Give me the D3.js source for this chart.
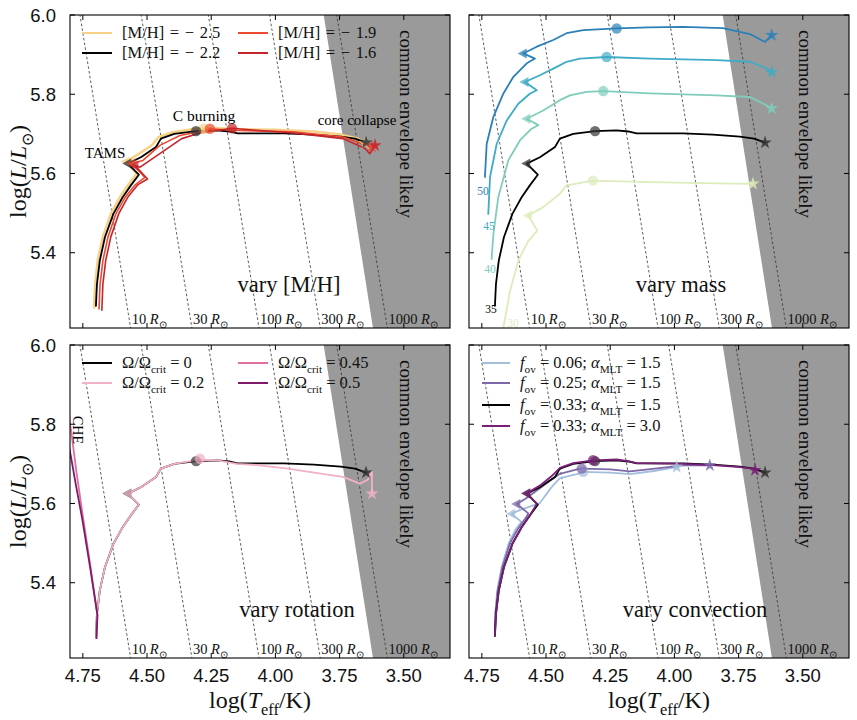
<!DOCTYPE html>
<html><head><meta charset="utf-8">
<script src="https://cdn.jsdelivr.net/npm/d3@7"></script>
<style>body{margin:0;background:#fff}svg{display:block}</style>
</head><body><svg id="c" width="857" height="720"></svg>
<script>
// ---------- axes / reference data ----------
const xTickVals=[4.75,4.50,4.25,4.00,3.75,3.50];
const xTickText=["4.75","4.50","4.25","4.00","3.75","3.50"];
const yTickVals=[5.4,5.6,5.8,6.0];
const yTickText=["5.4","5.6","5.8","6.0"];
const radii=[10,30,100,300,1000];
const radiusText=["10","30","100","300","1000"];
const ceEdge=[[3.812,6.0],[3.620,5.21]];

// ---------- tracks: [logTeff, logL] ----------
const trk35=[[4.699,5.266],[4.695,5.321],[4.684,5.380],[4.664,5.439],[4.631,5.498],[4.595,5.540],[4.563,5.570],[4.532,5.597],[4.575,5.625],[4.524,5.641],[4.465,5.667],[4.446,5.688],[4.394,5.700],[4.309,5.707],[4.225,5.709],[4.180,5.706],[4.147,5.701],[3.966,5.701],[3.850,5.698],[3.745,5.693],[3.690,5.688],[3.660,5.681],[3.647,5.678]];
const trk35Marks={tams:[4.575,5.625],cb:[4.309,5.707]};

const mh25=[[4.706,5.262],[4.702,5.321],[4.692,5.380],[4.672,5.440],[4.640,5.500],[4.603,5.543],[4.570,5.574],[4.540,5.600],[4.582,5.630],[4.535,5.648],[4.480,5.672],[4.455,5.692],[4.400,5.704],[4.320,5.712],[4.230,5.714],[4.150,5.712],[4.000,5.710],[3.850,5.706],[3.745,5.698],[3.680,5.688],[3.650,5.676]];
const mh19=[[4.687,5.258],[4.683,5.320],[4.672,5.380],[4.652,5.440],[4.620,5.500],[4.583,5.542],[4.545,5.572],[4.508,5.590],[4.559,5.625],[4.516,5.633],[4.450,5.671],[4.372,5.696],[4.282,5.707],[4.255,5.713],[4.169,5.709],[3.932,5.705],[3.737,5.692],[3.663,5.675],[3.624,5.667]];
const mh16=[[4.676,5.255],[4.672,5.320],[4.661,5.380],[4.641,5.440],[4.609,5.500],[4.573,5.542],[4.535,5.572],[4.498,5.586],[4.547,5.620],[4.527,5.616],[4.423,5.662],[4.365,5.688],[4.294,5.702],[4.169,5.714],[3.932,5.702],[3.737,5.688],[3.651,5.663],[3.632,5.650],[3.612,5.671]];

const m50=[[4.738,5.591],[4.731,5.675],[4.705,5.743],[4.666,5.802],[4.627,5.844],[4.575,5.878],[4.543,5.890],[4.589,5.903],[4.536,5.920],[4.472,5.937],[4.420,5.954],[4.355,5.962],[4.225,5.966],[4.100,5.969],[3.967,5.970],[3.811,5.967],[3.706,5.952],[3.647,5.932],[3.621,5.949]];
const m45=[[4.725,5.498],[4.718,5.591],[4.692,5.675],[4.653,5.734],[4.608,5.776],[4.562,5.802],[4.536,5.810],[4.582,5.831],[4.524,5.848],[4.458,5.869],[4.420,5.882],[4.368,5.890],[4.264,5.894],[4.095,5.890],[3.835,5.886],[3.706,5.882],[3.641,5.865],[3.621,5.856]];
const m40=[[4.712,5.384],[4.705,5.447],[4.686,5.540],[4.647,5.633],[4.601,5.684],[4.556,5.713],[4.530,5.722],[4.575,5.738],[4.511,5.759],[4.446,5.785],[4.407,5.797],[4.342,5.806],[4.277,5.808],[4.095,5.802],[3.835,5.797],[3.706,5.793],[3.641,5.772],[3.621,5.764]];
const m30=[[4.672,5.190],[4.640,5.304],[4.608,5.380],[4.569,5.430],[4.534,5.456],[4.569,5.494],[4.511,5.515],[4.446,5.549],[4.420,5.570],[4.317,5.582],[4.095,5.578],[3.835,5.575],[3.694,5.574]];
const massText=["50","45","40","35","30"];
const massLabelPos=[[4.745,5.557],[4.722,5.468],[4.718,5.359],[4.714,5.258],[4.629,5.223]];

const rot02=[[4.699,5.266],[4.695,5.321],[4.684,5.380],[4.664,5.439],[4.631,5.498],[4.595,5.540],[4.563,5.570],[4.532,5.597],[4.575,5.625],[4.524,5.641],[4.465,5.667],[4.446,5.688],[4.394,5.700],[4.300,5.710],[4.225,5.709],[4.150,5.700],[4.072,5.697],[3.950,5.688],[3.850,5.678],[3.737,5.667],[3.671,5.650],[3.640,5.660],[3.624,5.680],[3.624,5.625]];
const rot045=[[4.697,5.260],[4.694,5.321],[4.720,5.440],[4.748,5.560],[4.775,5.680],[4.796,5.785],[4.812,5.850]];
const rot05=[[4.697,5.260],[4.693,5.318],[4.722,5.440],[4.752,5.560],[4.778,5.650],[4.796,5.717],[4.812,5.770]];

const cv006=[[4.699,5.266],[4.698,5.321],[4.690,5.380],[4.673,5.439],[4.645,5.500],[4.618,5.535],[4.600,5.550],[4.595,5.553],[4.634,5.574],[4.600,5.584],[4.524,5.601],[4.480,5.640],[4.446,5.664],[4.368,5.676],[4.355,5.680],[4.250,5.678],[4.173,5.674],[4.080,5.682],[3.991,5.692]];
const cv025=[[4.699,5.266],[4.697,5.321],[4.688,5.380],[4.670,5.439],[4.640,5.500],[4.610,5.535],[4.575,5.568],[4.569,5.575],[4.614,5.599],[4.580,5.612],[4.536,5.633],[4.490,5.655],[4.446,5.675],[4.368,5.688],[4.361,5.688],[4.250,5.686],[4.173,5.681],[4.050,5.690],[3.966,5.696],[3.862,5.696]];
const cv033a3=[[4.699,5.266],[4.695,5.321],[4.684,5.380],[4.664,5.439],[4.631,5.498],[4.595,5.540],[4.563,5.570],[4.536,5.599],[4.575,5.626],[4.524,5.645],[4.480,5.668],[4.446,5.690],[4.394,5.702],[4.317,5.709],[4.225,5.711],[4.180,5.707],[4.147,5.702],[3.966,5.700],[3.850,5.697],[3.745,5.692],[3.700,5.688],[3.686,5.684]];

// ---------- setup ----------
const SERIF="'Liberation Serif','Times New Roman',serif";
const SANS="'Liberation Sans',Arial,Helvetica,sans-serif";
const W=380,H=313;
const x=d3.scaleLinear().domain([4.8,3.32]).range([0,W]);
const y=d3.scaleLinear().domain([5.21,6.0]).range([H,0]);
const line=d3.line().x(d=>x(d[0])).y(d=>y(d[1]));
const svg=d3.select("#c");
svg.append("rect").attr("width",857).attr("height",720).attr("fill","#fff");

function rich(t,segs,fs){
  let sub=false;
  segs.forEach(s=>{
    const ts=t.append("tspan").text(s[0]);
    if(s[1]==="i") ts.attr("font-style","italic");
    if(s[1]==="s"){ts.attr("font-size",fs*0.68).attr("dy",fs*0.28);sub=true;}
    else if(sub){ts.attr("dy",-fs*0.28);sub=false;}
  });
  return t;
}

const panels=[
 {ox:70,oy:15,title:"vary [M/H]",tx:219,
  tracks:[
   {d:mh25,c:"#f6d186",w:2.6,tams:[4.582,5.630],cb:[4.280,5.713],star:true},
   {d:trk35,c:"#000",mc:"#333",w:1.8,tams:trk35Marks.tams,cb:trk35Marks.cb,star:true},
   {d:mh19,c:"#ec4a2f",w:1.6,tams:[4.559,5.625],cb:[4.255,5.713],star:true},
   {d:mh16,c:"#c4252b",w:1.6,tams:[4.547,5.620],cb:[4.169,5.714],star:true}],
  legend:{cols:[12,168],rows:[18,38],lineW:30,ws:1.5,items:[
   {c:"#f6d186",col:0,row:0,segs:[["[M/H] = − 2.5","n"]]},
   {c:"#000",col:0,row:1,segs:[["[M/H] = − 2.2","n"]]},
   {c:"#ec4a2f",col:1,row:0,segs:[["[M/H] = − 1.9","n"]]},
   {c:"#c4252b",col:1,row:1,segs:[["[M/H] = − 1.6","n"]]}]},
  ylabel:true,xlabel:false},
 {ox:469,oy:15,title:"vary mass",tx:212,
  tracks:[
   {d:m50,c:"#2b80b8",w:1.8,tams:[4.589,5.903],cb:[4.225,5.966],star:true},
   {d:m45,c:"#40abc6",w:1.8,tams:[4.582,5.831],cb:[4.264,5.894],star:true},
   {d:m40,c:"#7fcdbb",w:1.8,tams:[4.575,5.738],cb:[4.277,5.808],star:true},
   {d:trk35,c:"#000",mc:"#333",w:1.8,tams:trk35Marks.tams,cb:trk35Marks.cb,star:true},
   {d:m30,c:"#dcecba",w:1.8,tams:[4.569,5.494],cb:[4.317,5.582],star:true}],
  massLabels:true,ylabel:false,xlabel:false},
 {ox:70,oy:345,title:"vary rotation",tx:227,
  tracks:[
   {d:trk35,c:"#000",mc:"#333",w:1.8,tams:trk35Marks.tams,cb:trk35Marks.cb,star:true},
   {d:rot02,c:"#f2b1c4",w:1.8,tams:[4.573,5.625],cb:[4.294,5.713],star:true},
   {d:rot045,c:"#e0709f",w:1.8},
   {d:rot05,c:"#7d1a6a",w:1.8}],
  legend:{cols:[12,168],rows:[18,38],lineW:30,ws:0,items:[
   {c:"#000",col:0,row:0,segs:[["Ω/Ω","n"],["crit","s"],[" = 0","n"]]},
   {c:"#f2b1c4",col:0,row:1,segs:[["Ω/Ω","n"],["crit","s"],[" = 0.2","n"]]},
   {c:"#e0709f",col:1,row:0,segs:[["Ω/Ω","n"],["crit","s"],[" = 0.45","n"]]},
   {c:"#7d1a6a",col:1,row:1,segs:[["Ω/Ω","n"],["crit","s"],[" = 0.5","n"]]}]},
  che:true,ylabel:true,xlabel:true},
 {ox:469,oy:345,title:"vary convection",tx:226,
  tracks:[
   {d:cv006,c:"#a3bddc",w:1.8,tams:[4.634,5.574],cb:[4.355,5.680],star:true},
   {d:cv025,c:"#7d69aa",w:1.8,tams:[4.614,5.599],cb:[4.361,5.688],star:true},
   {d:trk35,c:"#000",mc:"#333",w:1.8,tams:trk35Marks.tams,cb:trk35Marks.cb,star:true},
   {d:cv033a3,c:"#7a1f78",w:1.8,tams:[4.575,5.626],cb:[4.317,5.709],star:true}],
  legend:{cols:[13],rows:[18,38,60,81],lineW:28,ws:0,items:[
   {c:"#a3bddc",col:0,row:0,segs:[["f","i"],["ov","s"],[" = 0.06; ","n"],["α","i"],["MLT","s"],[" = 1.5","n"]]},
   {c:"#7d69aa",col:0,row:1,segs:[["f","i"],["ov","s"],[" = 0.25; ","n"],["α","i"],["MLT","s"],[" = 1.5","n"]]},
   {c:"#000",col:0,row:2,segs:[["f","i"],["ov","s"],[" = 0.33; ","n"],["α","i"],["MLT","s"],[" = 1.5","n"]]},
   {c:"#7a1f78",col:0,row:3,segs:[["f","i"],["ov","s"],[" = 0.33; ","n"],["α","i"],["MLT","s"],[" = 3.0","n"]]}]},
  ylabel:false,xlabel:true}
];

const defs=svg.append("defs");
defs.append("clipPath").attr("id","pclip").append("rect").attr("width",W).attr("height",H);

panels.forEach((p,pi)=>{
  const g=svg.append("g").attr("transform",`translate(${p.ox},${p.oy})`);
  const gc=g.append("g").attr("clip-path","url(#pclip)");
  // common-envelope region
  const poly=[ceEdge[0],ceEdge[1],[x.domain()[1]-0.05,ceEdge[1][1]],[x.domain()[1]-0.05,ceEdge[0][1]]];
  gc.append("path").attr("d","M"+poly.map(d=>[x(d[0]),y(d[1])].join(",")).join("L")+"Z").attr("fill","#9a9a9a");
  // constant-radius lines (Stefan-Boltzmann)
  const lt=(L,R)=>3.7613+(L-2*Math.log10(R))/4;
  radii.forEach((R,i)=>{
    gc.append("line").attr("x1",x(lt(6.05,R))).attr("y1",y(6.05)).attr("x2",x(lt(5.2,R))).attr("y2",y(5.2))
      .attr("stroke","#333").attr("stroke-width",0.8).attr("stroke-dasharray","2.6,2.2");
    const t=g.append("text").attr("x",x(lt(5.21,R))+1).attr("y",H-4).attr("font-family",SERIF).attr("font-size",14.5).attr("fill","#111");
    rich(t,[[radiusText[i]+" ","n"],["R","i"],["⊙","s"]],14.5);
  });
  // tracks
  p.tracks.forEach(tk=>{
    gc.append("path").attr("d",line(tk.d)).attr("fill","none").attr("stroke",tk.c).attr("stroke-width",tk.w)
      .attr("stroke-linejoin","round").attr("stroke-linecap","round");
  });
  // markers
  p.tracks.forEach(tk=>{
    const mc=tk.mc||tk.c;
    if(tk.tams) gc.append("path").attr("d","M-5.5,0L3.5,-5L3.5,5Z")
      .attr("transform",`translate(${x(tk.tams[0])},${y(tk.tams[1])})`).attr("fill",mc).attr("opacity",0.75);
    if(tk.cb) gc.append("circle").attr("cx",x(tk.cb[0])).attr("cy",y(tk.cb[1])).attr("r",5.2).attr("fill",mc).attr("opacity",0.7);
    if(tk.star){const e=tk.d[tk.d.length-1];
      gc.append("path").attr("d",d3.symbol(d3.symbolStar).size(55)()).attr("transform",`translate(${x(e[0])},${y(e[1])})`).attr("fill",mc).attr("opacity",0.85);}
  });
  if(p.massLabels){
    p.tracks.forEach((tk,i)=>{
      g.append("text").attr("x",x(massLabelPos[i][0])).attr("y",y(massLabelPos[i][1])).attr("text-anchor","middle")
        .attr("dominant-baseline","central").attr("font-family",SERIF).attr("font-size",11.5).attr("fill",tk.c).text(massText[i]);
    });
  }
  // annotations
  g.append("text").attr("x",p.tx).attr("y",pi<2?277:272).attr("text-anchor","middle").attr("font-family",SERIF).attr("font-size",22.5).attr("fill","#111").text(p.title);
  g.append("text").attr("transform",`translate(336,109) rotate(90)`).attr("text-anchor","middle").attr("dominant-baseline","central")
    .attr("font-family",SERIF).attr("font-size",19).attr("fill","#111").text("common envelope likely");
  if(pi===0){
    g.append("text").attr("x",134).attr("y",106).attr("text-anchor","middle").attr("font-family",SERIF).attr("font-size",15.5).text("C burning");
    g.append("text").attr("x",287).attr("y",110).attr("text-anchor","middle").attr("font-family",SERIF).attr("font-size",15).text("core collapse");
    g.append("text").attr("x",35).attr("y",143).attr("text-anchor","middle").attr("font-family",SERIF).attr("font-size",15).text("TAMS");
  }
  if(p.che){
    g.append("text").attr("transform",`translate(7,85) rotate(90)`).attr("text-anchor","middle").attr("dominant-baseline","central")
      .attr("font-family",SERIF).attr("font-size",14).text("CHE");
  }
  // legend
  if(p.legend){
    const L=p.legend;
    L.items.forEach(it=>{
      const lx=L.cols[it.col], ly=L.rows[it.row];
      g.append("line").attr("x1",lx).attr("x2",lx+L.lineW).attr("y1",ly).attr("y2",ly).attr("stroke",it.c).attr("stroke-width",2);
      const t=g.append("text").attr("x",lx+L.lineW+10).attr("y",ly+5).attr("font-family",SERIF).attr("font-size",16.5)
        .attr("word-spacing",L.ws).attr("fill","#111");
      rich(t,it.segs,16.5);
    });
  }
  // frame and ticks
  g.append("rect").attr("width",W).attr("height",H).attr("fill","none").attr("stroke","#000").attr("stroke-width",1.1);
  xTickVals.forEach((v,i)=>{
    g.append("line").attr("x1",x(v)).attr("x2",x(v)).attr("y1",0).attr("y2",5).attr("stroke","#000");
    g.append("line").attr("x1",x(v)).attr("x2",x(v)).attr("y1",H).attr("y2",H-5).attr("stroke","#000");
    if(p.xlabel) g.append("text").attr("x",x(v)).attr("y",H+24).attr("text-anchor","middle").attr("font-family",SANS).attr("font-size",18.5).attr("fill","#111").text(xTickText[i]);
  });
  yTickVals.forEach((v,i)=>{
    g.append("line").attr("x1",0).attr("x2",5).attr("y1",y(v)).attr("y2",y(v)).attr("stroke","#000");
    g.append("line").attr("x1",W).attr("x2",W-5).attr("y1",y(v)).attr("y2",y(v)).attr("stroke","#000");
    if(p.ylabel) g.append("text").attr("x",-14).attr("y",y(v)).attr("text-anchor","end").attr("dominant-baseline","central").attr("font-family",SANS).attr("font-size",18.5).attr("fill","#111").text(yTickText[i]);
  });
  if(p.ylabel){
    const t=g.append("text").attr("transform",`translate(-44,${H/2}) rotate(-90)`).attr("text-anchor","middle").attr("font-family",SERIF).attr("font-size",24).attr("fill","#111");
    rich(t,[["log(","n"],["L","i"],["/","n"],["L","i"],["⊙","s"],[")","n"]],24);
  }
  if(p.xlabel){
    const t=g.append("text").attr("x",W/2).attr("y",H+50).attr("text-anchor","middle").attr("font-family",SERIF).attr("font-size",24).attr("fill","#111");
    rich(t,[["log(","n"],["T","i"],["eff","s"],["/K)","n"]],24);
  }
});
</script></body></html>
